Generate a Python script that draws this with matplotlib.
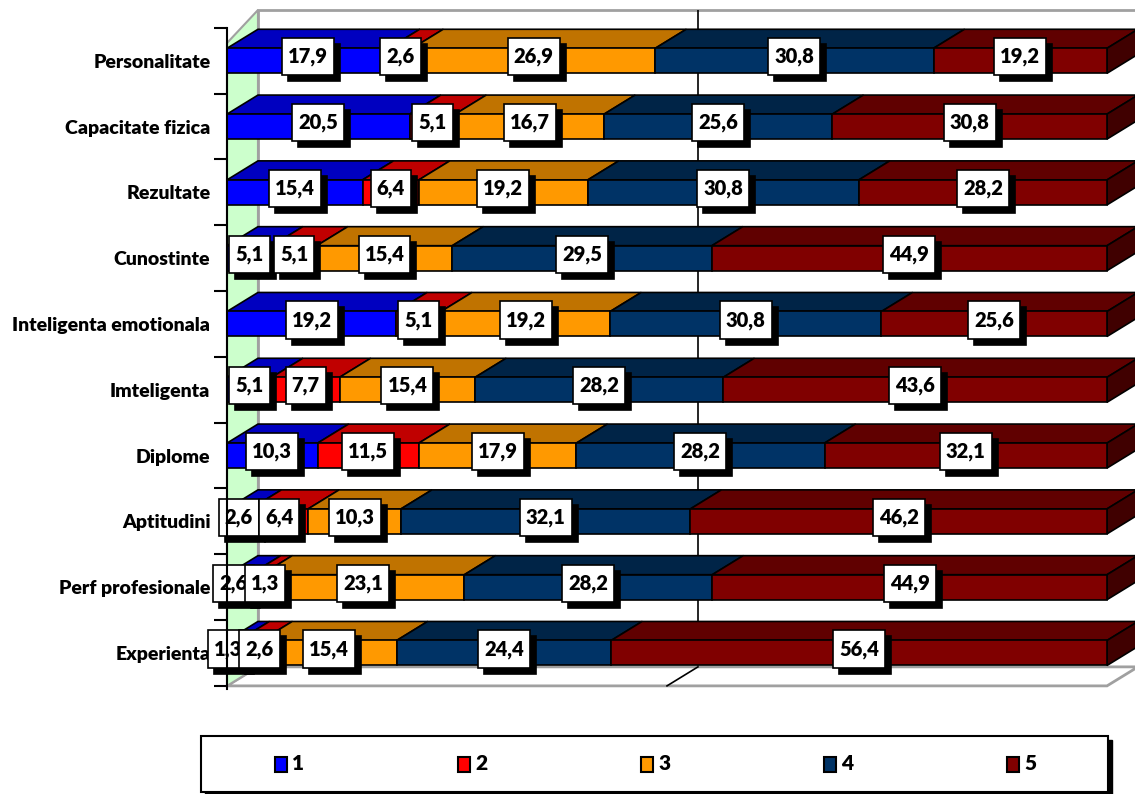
import numpy as np
import matplotlib.pyplot as plt
from matplotlib.patches import Polygon, Rectangle
from matplotlib.path import Path
from matplotlib.transforms import offset_copy

# ===============================
# Data
# ===============================
categories = ['Experienta', 'Perf profesionale', 'Aptitudini', 'Diplome', 'Imteligenta',
              'Inteligenta emotionala', 'Cunostinte', 'Rezultate', 'Capacitate fizica',
              'Personalitate']
series_names = ['1', '2', '3', '4', '5']

s1 = [1.3, 2.6, 2.6, 10.3, 5.1, 19.2, 5.1, 15.4, 20.5, 17.9]
s2 = [2.6, 1.3, 6.4, 11.5, 7.7, 5.1, 5.1, 6.4, 5.1, 2.6]
s3 = [15.4, 23.1, 10.3, 17.9, 15.4, 19.2, 15.4, 19.2, 16.7, 26.9]
s4 = [24.4, 28.2, 32.1, 28.2, 28.2, 30.8, 29.5, 30.8, 25.6, 30.8]
s5 = [56.4, 44.9, 46.2, 32.1, 43.6, 25.6, 44.9, 28.2, 30.8, 19.2]

front_colors = ['#0000FF', '#FF0000', '#FF9900', '#003366', '#800000']
top_colors = ['#0000C0', '#C00000', '#C07300', '#002447', '#600000']
side_color = '#400000'

values = np.array([s1, s2, s3, s4, s5])
# 100% stacked
shares = values / values.sum(axis=0) * 100
lefts = np.vstack([np.zeros(len(categories)), np.cumsum(shares, axis=0)[:-1]])

# ===============================
# Figure / axes
# ===============================
W, H = 1135, 794
fig = plt.figure(figsize=(W / 100, H / 100), dpi=100)
ax = fig.add_axes([227 / W, (H - 687) / H, 908 / W, 677 / H])
ax.set_xlim(0, 908 / 8.8)
ax.set_ylim(-0.517, 9.772)

dx, dy = 3.52, 0.289     # depth of the 3d effect
h = 0.38                 # bar thickness
y = np.arange(len(categories))
lbl_font = 'Lato'
lbl_weight = 'heavy'

# walls and floor
floor_front, floor_back = -0.5, -0.5 + dy
ax.add_patch(Rectangle((dx, floor_back), 100, 9.772 - floor_back, facecolor='white',
                       edgecolor='#A0A0A0', lw=2, zorder=0, clip_on=False))
ax.plot([50 + dx, 50 + dx], [floor_back, 9.772], color='black', lw=1.2, zorder=0.5)
ax.add_patch(Polygon([(0, floor_front), (100, floor_front), (100 + dx, floor_back),
                      (dx, floor_back)], closed=True, facecolor='white',
                     edgecolor='#A0A0A0', lw=2, zorder=0.6, clip_on=False))
ax.plot([50, 50 + dx], [floor_front, floor_back], color='black', lw=1.2, zorder=0.7)
ax.add_patch(Polygon([(0, floor_front), (0, 9.27), (dx, 9.772), (dx, floor_back)],
                     closed=True, facecolor='#CCFFCC', edgecolor='#A0A0A0', lw=1.5,
                     zorder=0.8, clip_on=False))

# ===============================
# Bars
# ===============================
for j in range(len(series_names)):
    ax.barh(y, shares[j], left=lefts[j], height=h, color=front_colors[j],
            edgecolor='black', lw=1.2, zorder=3)
    for i in range(len(categories)):
        x0, x1 = lefts[j, i], lefts[j, i] + shares[j, i]
        yt = y[i] + h / 2
        ax.add_patch(Polygon([(x0, yt), (x1, yt), (x1 + dx, yt + dy), (x0 + dx, yt + dy)],
                             closed=True, facecolor=top_colors[j], edgecolor='black',
                             lw=1.2, zorder=2.9))
for i in range(len(categories)):
    yb, yt = y[i] - h / 2, y[i] + h / 2
    ax.add_patch(Polygon([(100, yb), (100 + dx, yb + dy), (100 + dx, yt + dy), (100, yt)],
                         closed=True, facecolor=side_color, edgecolor='black',
                         lw=1.2, zorder=2.9, clip_on=False))


# ===============================
# Value labels (white box with drop shadow)
# ===============================
def label_box(x0, y0, width, height, mutation_size):
    px, py = 0.3 * mutation_size, 0.45 * mutation_size
    return Path([(x0 - px, y0 - py), (x0 + width + px, y0 - py),
                 (x0 + width + px, y0 + height + py), (x0 - px, y0 + height + py),
                 (x0 - px, y0 - py)], closed=True)


# label centres, nudged apart when two small segments sit side by side
centers = lefts + shares / 2
min_gap = 3.6
for i in range(len(categories)):
    for j in range(1, len(series_names)):
        gap = centers[j, i] - centers[j - 1, i]
        if gap < min_gap:
            shift = min_gap - gap
            centers[j - 1, i] -= shift / 3
            centers[j, i] += shift * 2 / 3

shadow_tr = offset_copy(ax.transData, fig=fig, x=6, y=-6, units='dots')
z = 5
for j in range(len(series_names)):
    for i in range(len(categories)):
        xc = centers[j, i]
        txt = f'{values[j, i]:.1f}'.replace('.', ',')
        ax.text(xc, y[i] + 0.06, txt, transform=shadow_tr, ha='center', va='center',
                fontsize=14.5, fontweight=lbl_weight, family=lbl_font, color='black',
                bbox=dict(boxstyle=label_box, fc='black', ec='black', lw=1.2),
                zorder=z, clip_on=False)
        ax.text(xc, y[i] + 0.06, txt, ha='center', va='center', fontsize=14.5,
                fontweight=lbl_weight, family=lbl_font, color='black',
                bbox=dict(boxstyle=label_box, fc='white', ec='black', lw=1.2),
                zorder=z + 0.5, clip_on=False)
    z += 1

# ===============================
# Axis styling
# ===============================
for side in ['top', 'right', 'bottom']:
    ax.spines[side].set_visible(False)
ax.spines['left'].set_color('black')
ax.spines['left'].set_linewidth(1.5)
ax.spines['left'].set_bounds(-0.55, 9.5)
ax.spines['left'].set_zorder(20)
ax.set_xticks([])
ax.set_yticks(y)
ax.set_yticklabels(categories, fontsize=14, fontweight=lbl_weight, family=lbl_font)
ax.set_yticks(np.arange(-0.5, 9.6, 1), minor=True)
ax.tick_params(axis='y', which='major', length=0, pad=12)
ax.tick_params(axis='y', which='minor', length=9.5, width=1.5, direction='out')
ax.patch.set_visible(False)


# ===============================
# Legend
# ===============================
def fx(px):
    return px / W


def fy(py):
    return (H - py) / H


fig.patches.append(Rectangle((fx(205), fy(796)), fx(1112) - fx(205), fy(740) - fy(796),
                             transform=fig.transFigure, facecolor='black',
                             edgecolor='black', zorder=1))
fig.patches.append(Rectangle((fx(201), fy(792)), fx(1108) - fx(201), fy(736) - fy(792),
                             transform=fig.transFigure, facecolor='white',
                             edgecolor='black', lw=1.5, zorder=2))
for k, name in enumerate(series_names):
    sx = 275 + k * 183
    fig.patches.append(Rectangle((fx(sx), fy(772)), fx(12), fy(0) - fy(15),
                                 transform=fig.transFigure, facecolor=front_colors[k],
                                 edgecolor='black', lw=1.5, zorder=3))
    fig.text(fx(sx + 17), fy(764), name, ha='left', va='center', fontsize=15,
             fontweight=lbl_weight, family=lbl_font, zorder=3)

fig.savefig('out.png', dpi=100)
